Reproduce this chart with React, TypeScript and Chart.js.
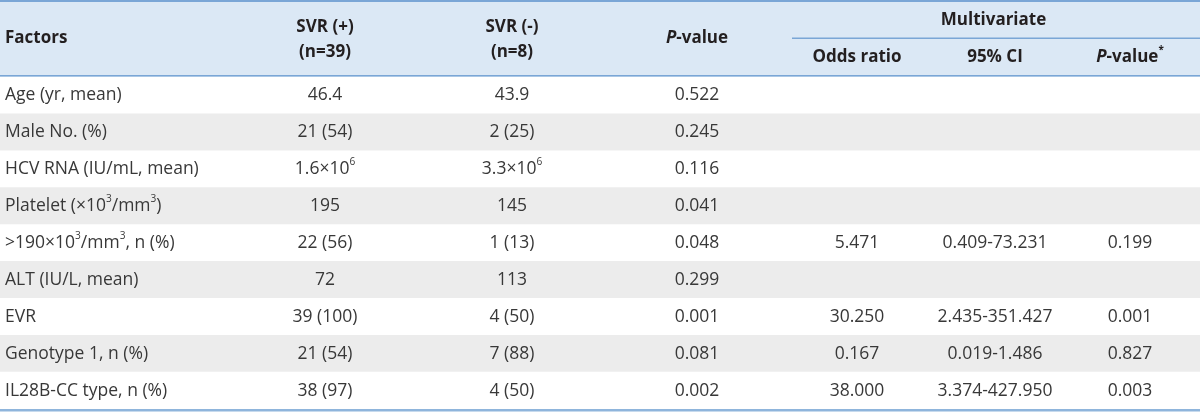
import React, { useEffect, useRef } from "react";
import { Chart, registerables } from "chart.js";

Chart.register(...registerables);

const factors = [
  "Age (yr, mean)",
  "Male No. (%)",
  "HCV RNA (IU/mL, mean)",
  "Platelet (×10^{3}/mm^{3})",
  ">190×10^{3}/mm^{3}, n (%)",
  "ALT (IU/L, mean)",
  "EVR",
  "Genotype 1, n (%)",
  "IL28B-CC type, n (%)",
];
const svrPos = ["46.4", "21 (54)", "1.6×10^{6}", "195", "22 (56)", "72", "39 (100)", "21 (54)", "38 (97)"];
const svrNeg = ["43.9", "2 (25)", "3.3×10^{6}", "145", "1 (13)", "113", "4 (50)", "7 (88)", "4 (50)"];
const pValues = ["0.522", "0.245", "0.116", "0.041", "0.048", "0.299", "0.001", "0.081", "0.002"];
const oddsRatio = ["", "", "", "", "5.471", "", "30.250", "0.167", "38.000"];
const ci95 = ["", "", "", "", "0.409-73.231", "", "2.435-351.427", "0.019-1.486", "3.374-427.950"];
const pMulti = ["", "", "", "", "0.199", "", "0.001", "0.827", "0.003"];

const headFactors = "Factors";
const headSvrPos = ["SVR (+)", "(n=39)"];
const headSvrNeg = ["SVR (-)", "(n=8)"];
const headP = "~{P}-value";
const headMulti = "Multivariate";
const headOdds = "Odds ratio";
const headCi = "95% CI";
const headPMulti = "~{P}-value^{*}";

const FONT = "'Open Sans', 'Noto Sans', sans-serif";
const BODY_SIZE = 17.5;
const HEAD_SIZE = 17;
const BODY_COLOR = "#383838";
const HEAD_COLOR = "#231f20";
const HEAD_BG = "#dbe8f5";
const ROW_GRAY = "#ececec";
const LINE_BLUE = "#7aa6d6";

type Seg = { t: string; sup: boolean; it: boolean };

function parse(text: string): Seg[] {
  const segs: Seg[] = [];
  const re = /(\^|~)\{([^}]*)\}/g;
  let last = 0;
  let m: RegExpExecArray | null;
  while ((m = re.exec(text))) {
    if (m.index > last) segs.push({ t: text.slice(last, m.index), sup: false, it: false });
    segs.push({ t: m[2], sup: m[1] === "^", it: m[1] === "~" });
    last = m.index + m[0].length;
  }
  if (last < text.length) segs.push({ t: text.slice(last), sup: false, it: false });
  return segs;
}

function drawRich(
  ctx: CanvasRenderingContext2D,
  text: string,
  x: number,
  y: number,
  align: "left" | "center",
  size: number,
  bold: boolean,
  color: string
) {
  const segs = parse(text);
  const fontOf = (s: Seg) =>
    `${s.it ? "italic " : ""}${bold ? "bold " : ""}${s.sup ? size * 0.58 : size}px ${FONT}`;
  let total = 0;
  const widths = segs.map((s) => {
    ctx.font = fontOf(s);
    const w = ctx.measureText(s.t).width;
    total += w;
    return w;
  });
  let cx = align === "center" ? x - total / 2 : x;
  ctx.fillStyle = color;
  ctx.textAlign = "left";
  ctx.textBaseline = "middle";
  segs.forEach((s, i) => {
    ctx.font = fontOf(s);
    ctx.fillText(s.t, cx, s.sup ? y - size * 0.42 : y);
    cx += widths[i];
  });
}

// column positions in x-scale units (scale spans 0..1200)
const colLeftFactors = 5;
const colCenters = [325, 512, 697, 857, 995, 1130];
const multiStart = 792;

const tablePlugin = {
  id: "tablePlugin",
  beforeDraw(chart: any) {
    const { ctx, chartArea, scales } = chart;
    const x = scales.x;
    const left = x.getPixelForValue(0);
    const right = x.getPixelForValue(1200);
    ctx.save();
    ctx.fillStyle = "#ffffff";
    ctx.fillRect(0, 0, chart.width, chart.height);
    ctx.fillStyle = HEAD_BG;
    ctx.fillRect(left, 0, right - left, chartArea.top);
    ctx.restore();
  },
  afterDatasetsDraw(chart: any) {
    const { ctx, chartArea, scales } = chart;
    const x = scales.x;
    const y = scales.y;
    const left = x.getPixelForValue(0);
    const right = x.getPixelForValue(1200);
    const top = chartArea.top;
    ctx.save();
    // lines
    ctx.fillStyle = LINE_BLUE;
    ctx.fillRect(left, 0, right - left, 2);
    ctx.fillRect(left, top - 2, right - left, 1.5);
    const ms = x.getPixelForValue(multiStart);
    ctx.fillRect(ms, top / 2 - 1, right - ms, 1.5);
    ctx.fillStyle = "#8fb5dc";
    ctx.fillRect(left, chartArea.bottom, right - left, 2.5);

    // header
    const cp = colCenters.map((c) => x.getPixelForValue(c));
    drawRich(ctx, headFactors, x.getPixelForValue(colLeftFactors), top / 2, "left", HEAD_SIZE, true, HEAD_COLOR);
    drawRich(ctx, headSvrPos[0], cp[0], top * 0.35, "center", HEAD_SIZE, true, HEAD_COLOR);
    drawRich(ctx, headSvrPos[1], cp[0], top * 0.68, "center", HEAD_SIZE, true, HEAD_COLOR);
    drawRich(ctx, headSvrNeg[0], cp[1], top * 0.35, "center", HEAD_SIZE, true, HEAD_COLOR);
    drawRich(ctx, headSvrNeg[1], cp[1], top * 0.68, "center", HEAD_SIZE, true, HEAD_COLOR);
    drawRich(ctx, headP, cp[2], top / 2, "center", HEAD_SIZE, true, HEAD_COLOR);
    drawRich(ctx, headMulti, (cp[3] + cp[5]) / 2 + 0, top * 0.26, "center", HEAD_SIZE, true, HEAD_COLOR);
    drawRich(ctx, headOdds, cp[3], top * 0.74, "center", HEAD_SIZE, true, HEAD_COLOR);
    drawRich(ctx, headCi, cp[4], top * 0.74, "center", HEAD_SIZE, true, HEAD_COLOR);
    drawRich(ctx, headPMulti, cp[5], top * 0.74, "center", HEAD_SIZE, true, HEAD_COLOR);

    // body
    const cols = [svrPos, svrNeg, pValues, oddsRatio, ci95, pMulti];
    factors.forEach((f, i) => {
      const py = y.getPixelForValue(i);
      drawRich(ctx, f, x.getPixelForValue(colLeftFactors), py, "left", BODY_SIZE, false, BODY_COLOR);
      cols.forEach((col, j) => {
        if (col[i]) drawRich(ctx, col[i], cp[j], py, "center", BODY_SIZE, false, BODY_COLOR);
      });
    });
    ctx.restore();
  },
};

export default function App() {
  const ref = useRef<HTMLCanvasElement>(null);
  useEffect(() => {
    document.body.style.margin = "0";
    const canvas = ref.current;
    if (!canvas) return;
    const chart = new Chart(canvas, {
      type: "bar",
      data: {
        labels: factors,
        datasets: [
          {
            data: factors.map(() => [0, 1200]) as any,
            backgroundColor: factors.map((_, i) => (i % 2 === 1 ? ROW_GRAY : "#ffffff")),
            borderWidth: 0,
            barPercentage: 1,
            categoryPercentage: 1,
          },
        ],
      },
      options: {
        indexAxis: "y",
        animation: false,
        responsive: false,
        maintainAspectRatio: false,
        layout: { padding: { top: 77, bottom: 3, left: 0, right: 0 } },
        plugins: { legend: { display: false }, tooltip: { enabled: false } },
        scales: {
          x: { type: "linear", min: 0, max: 1200, display: false },
          y: { type: "category", display: false },
        },
      },
      plugins: [tablePlugin],
    });
    return () => chart.destroy();
  }, []);
  return (
    <div style={{ width: 1200, height: 412 }}>
      <canvas ref={ref} width={1200} height={412} style={{ display: "block" }} />
    </div>
  );
}
